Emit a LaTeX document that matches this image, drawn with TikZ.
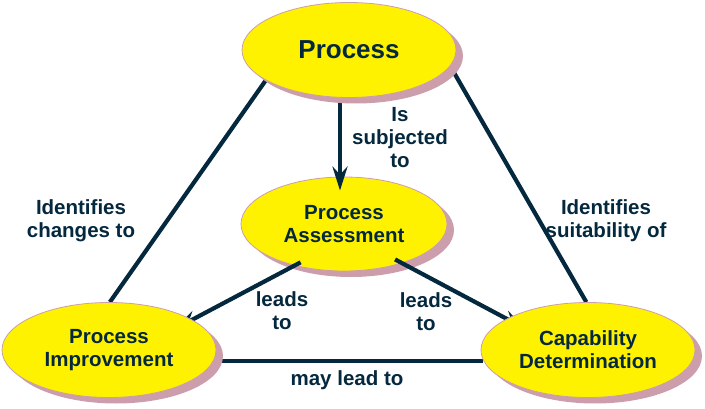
\documentclass[tikz,border=0pt]{standalone}
\usepackage{fontspec}
\setmainfont{Liberation Sans}
\usetikzlibrary{shapes.geometric,shadows,arrows.meta,backgrounds}
\definecolor{navy}{RGB}{4,40,62}
\definecolor{rim}{RGB}{204,158,172}
\begin{document}
\begin{tikzpicture}[x=1pt, y=-1pt, line join=round, text=navy,
		font=\fontsize{20.5}{23}\selectfont\bfseries,
		blob/.style={ellipse, fill=yellow, draw=rim, line width=0.8pt, inner sep=0pt,
			minimum width=214pt, minimum height=95pt, align=center,
			drop shadow={shadow xshift=7pt, shadow yshift=-6pt, fill=rim, opacity=1}},
		link/.style={draw=navy, line width=4.2pt},
		pointy/.style={-{Stealth[length=24pt,width=15pt,inset=8pt]}},
		lbl/.style={align=center, inner sep=0pt}]
		\useasboundingbox (0,0) rectangle (705,409);
		% the three corners
		\node[blob, font=\fontsize{26}{30}\selectfont\bfseries] (proc) at (349,50) {Process};
		\node[blob] (impr) at (109,350) {Process\\Improvement};
		\node[blob] (capa) at (588,350) {Capability\\Determination};
		\begin{pgfonlayer}{background}
			\node[blob, minimum width=206pt, minimum height=94pt] (assess) at (344,224) {Process\\Assessment};
			\draw[link] (proc.200) -- (impr.89);
			\draw[link] (proc.-9) -- (capa.92);
			\draw[link] (impr.-6) -- (capa.186);
			\draw[link, pointy] ([xshift=-9pt]proc.south) -- ([xshift=-4pt,yshift=-14pt]assess.north);
			\draw[link, pointy, shorten <=-7pt, shorten >=-20pt] (assess.220) -- (impr.20);
			\draw[link, pointy, shorten <=-8pt, shorten >=-22pt] (assess.-34) -- (capa.159);
		\end{pgfonlayer}
		% labels
		\node[lbl] (sub) at (400,138) {Is\\subjected\\to};
		\node[lbl] (chg) at (81,221) {Identifies\\changes to};
		\node[lbl] (suit) at (606,221) {Identifies\\suitability of};
		\node[lbl] (ldl) at (282,311) {leads\\to};
		\node[lbl] (ldr) at (426,312) {leads\\to};
		\node[lbl] (may) at (347,380) {may lead to};
	\end{tikzpicture}
\end{document}
